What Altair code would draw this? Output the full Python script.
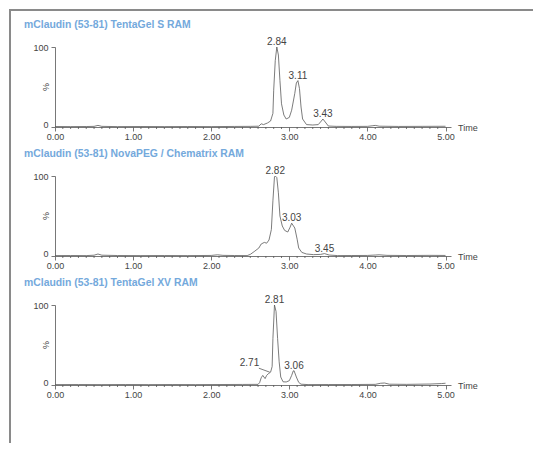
import altair as alt
import pandas as pd

# ---------------- data ----------------
titles = [
    "mClaudin (53-81) TentaGel S RAM",
    "mClaudin (53-81) NovaPEG / Chematrix RAM",
    "mClaudin (53-81) TentaGel XV RAM",
]

# Panel 1: TentaGel S RAM
t1 = [0.00, 0.20, 0.40, 0.50, 0.55, 0.60, 0.80, 1.10, 1.40, 1.70, 2.00, 2.30, 2.50,
      2.61, 2.64, 2.67, 2.72, 2.76, 2.79, 2.80, 2.82, 2.84, 2.86, 2.88, 2.90, 2.93,
      2.96, 3.00, 3.03, 3.07, 3.09, 3.11, 3.13, 3.15, 3.17, 3.22, 3.30, 3.37, 3.41,
      3.43, 3.47, 3.50, 3.60, 3.80, 4.00, 4.06, 4.10, 4.15, 4.40, 4.70, 5.00]
i1 = [0.6, 0.5, 0.6, 0.8, 2.0, 0.8, 0.5, 0.6, 0.5, 0.6, 0.5, 0.7, 0.8,
      1.0, 4.0, 3.0, 5.0, 7.5, 17, 46, 83, 100, 90, 58, 29, 15,
      10, 12, 21, 42, 55, 58, 48, 25, 10, 3.0, 2.5, 3.0, 7.5,
      10, 5.0, 1.2, 0.8, 0.7, 0.8, 1.5, 2.0, 1.0, 0.7, 0.8, 0.9]
lab1_rt = [2.84, 3.11, 3.43]
lab1_t = [2.84, 3.11, 3.43]
lab1_i = [100, 58, 10]

# Panel 2: NovaPEG / Chematrix RAM
t2 = [0.00, 0.20, 0.40, 0.50, 0.55, 0.60, 0.80, 1.10, 1.40, 1.70, 2.00, 2.08, 2.15,
      2.30, 2.46, 2.50, 2.55, 2.61, 2.64, 2.68, 2.71, 2.74, 2.77, 2.79, 2.81, 2.82,
      2.84, 2.86, 2.88, 2.91, 2.94, 2.98, 3.01, 3.03, 3.07, 3.10, 3.12, 3.16, 3.22,
      3.31, 3.40, 3.45, 3.51, 3.62, 3.80, 4.00, 4.10, 4.15, 4.25, 4.50, 4.80, 5.00]
i2 = [0.5, 0.6, 0.5, 1.0, 2.5, 1.0, 0.6, 0.5, 0.6, 0.5, 0.7, 1.5, 0.8,
      0.6, 0.5, 2.0, 5.5, 10, 15, 17, 16, 20, 33, 69, 99, 100,
      98, 79, 50, 37.5, 32, 30, 36, 41, 35, 21, 10, 4.5, 2.5,
      1.7, 2.0, 3.0, 1.2, 0.5, 0.6, 0.7, 1.2, 1.5, 0.8, 0.6, 0.8, 0.7]
lab2_rt = [2.82, 3.03, 3.45]
lab2_t = [2.82, 3.03, 3.45]
lab2_i = [100, 41, 3]

# Panel 3: TentaGel XV RAM
t3 = [0.00, 0.30, 0.60, 0.90, 1.20, 1.50, 1.80, 2.10, 2.40, 2.60, 2.62, 2.64,
      2.66, 2.69, 2.71, 2.73, 2.76, 2.78, 2.79, 2.81, 2.83, 2.85, 2.87, 2.89,
      2.92, 2.96, 3.00, 3.03, 3.05, 3.06, 3.09, 3.12, 3.15, 3.24, 3.50, 3.80,
      4.10, 4.17, 4.22, 4.28, 4.50, 4.80, 4.95, 5.00]
i3 = [0.5, 0.6, 0.5, 0.6, 0.5, 0.6, 0.5, 0.6, 0.7, 0.8, 3.0, 9.0,
      12, 8.0, 12, 14, 16, 23, 58, 100, 92, 58, 29, 10,
      4.0, 3.8, 5.4, 12, 17.5, 18, 10, 3.3, 1.0, 0.5, 0.6, 0.6,
      0.8, 2.2, 2.5, 1.0, 0.8, 1.2, 1.8, 2.2]
lab3_rt = [2.71, 2.81, 3.06]
lab3_t = [2.49, 2.81, 3.06]
lab3_i = [21, 100, 18]
leader3_t = [2.61, 2.75]
leader3_i = [21, 16]

x_major = [0, 1, 2, 3, 4, 5]
x_minor = [round(k / 10, 1) for k in range(0, 51) if k % 10 != 0]
y_ticks = list(range(0, 101, 10))

# ---------------- style ----------------
W, H = 396, 80
LINE = "#5a5a5a"
AXIS = "#555555"
TITLE_C = "#74a9dc"
FONT = "Liberation Sans"


def panel(title, t, i, lrt, lt, li, leader=None, frame=False):
    df = pd.DataFrame({"t": t, "i": i})
    xenc = alt.X(
        "t:Q",
        scale=alt.Scale(domain=[0, 5.07], nice=False, zero=False),
        axis=alt.Axis(
            values=x_major,
            format=".2f",
            tickSize=4,
            labelFlush=False,
            labelOverlap=False,
            labelPadding=1,
            labelFontSize=9,
            grid=False,
            title=None,
        ),
    )
    yenc = alt.Y(
        "i:Q",
        scale=alt.Scale(domain=[0, 100], nice=False),
        axis=alt.Axis(
            values=y_ticks,
            labelExpr="datum.value === 0 || datum.value === 100 ? datum.label : ''",
            tickSize={"condition": {"test": "datum.value % 50 === 0", "value": 4}, "value": 2},
            labelOffset={"condition": {"test": "datum.value === 0", "value": -3}, "value": 0},
            labelOverlap=False,
            labelPadding=3,
            labelFontSize=9,
            grid=False,
            title=None,
        ),
    )
    line = alt.Chart(df).mark_line(color=LINE, strokeWidth=0.8).encode(x=xenc, y=yenc)

    minor = alt.Chart(pd.DataFrame({"t": x_minor})).mark_rule(
        color=AXIS, strokeWidth=0.8
    ).encode(x="t:Q", y=alt.value(H), y2=alt.value(H + 2))

    ldf = pd.DataFrame({"t": lt, "i": li, "lab": [f"{v:.2f}" for v in lrt]})
    labels = alt.Chart(ldf).mark_text(
        fontSize=10, font=FONT, color="#444444", dy=-5, baseline="middle", align="center"
    ).encode(x="t:Q", y="i:Q", text="lab:N")

    one = pd.DataFrame({"k": [0]})
    pct = alt.Chart(one).mark_text(
        text="%", fontSize=9, font=FONT, color="#444444", angle=270, baseline="middle", align="center"
    ).encode(x=alt.value(-9), y=alt.value(H / 2))
    time = alt.Chart(one).mark_text(
        text="Time", fontSize=9, font=FONT, color="#444444", align="left", baseline="middle", dy=1
    ).encode(x=alt.value(W + 7), y=alt.value(H))
    ttl = alt.Chart(one).mark_text(
        text=title, fontSize=10.4, font=FONT, fontWeight="bold", color=TITLE_C,
        align="left", baseline="middle"
    ).encode(x=alt.value(-31), y=alt.value(-22))

    layers = [line, minor, labels, pct, time, ttl]
    if leader is not None:
        lddf = pd.DataFrame({"t": leader[0], "i": leader[1]})
        layers.append(
            alt.Chart(lddf).mark_line(color=LINE, strokeWidth=0.8).encode(x="t:Q", y="i:Q")
        )
    if frame:
        layers.append(
            alt.Chart(one).mark_rule(color="#8a8a8a", strokeWidth=2).encode(
                x=alt.value(-45), y=alt.value(-37), y2=alt.value(396)
            )
        )
        layers.append(
            alt.Chart(one).mark_rule(color="#8a8a8a", strokeWidth=2).encode(
                x=alt.value(-46), x2=alt.value(478), y=alt.value(-37)
            )
        )
    return alt.layer(*layers).properties(width=W, height=H)


p1 = panel(titles[0], t1, i1, lab1_rt, lab1_t, lab1_i, frame=True)
p2 = panel(titles[1], t2, i2, lab2_rt, lab2_t, lab2_i)
p3 = panel(titles[2], t3, i3, lab3_rt, lab3_t, lab3_i, leader=(leader3_t, leader3_i))

chart = (
    alt.vconcat(p1, p2, p3, spacing=49, bounds="flush")
    .properties(padding={"left": 0, "top": 1, "right": 0, "bottom": 0}, background="white")
    .configure_view(stroke=None)
    .configure_axis(
        domainColor=AXIS,
        tickColor=AXIS,
        labelColor="#444444",
        labelFont=FONT,
        domainWidth=0.8,
        tickWidth=0.8,
    )
)

chart.save("out.html", embed_options={"renderer": "svg", "actions": False})
